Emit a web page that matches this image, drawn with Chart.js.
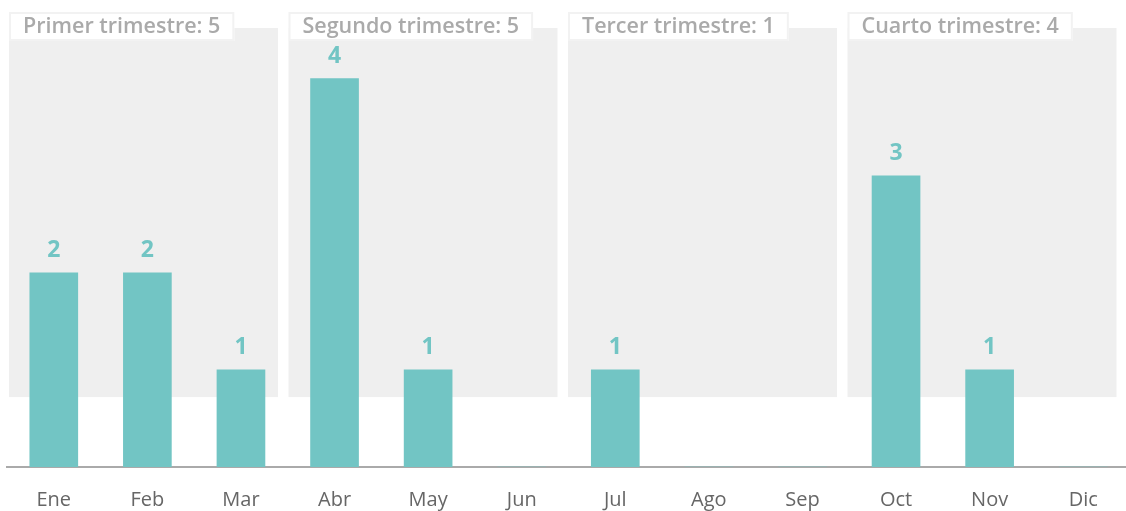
<!DOCTYPE html>
<html>
<head>
<meta charset="utf-8">
<script src="https://cdn.jsdelivr.net/npm/chart.js@4/dist/chart.umd.min.js"></script>
<style>
  html, body { margin: 0; padding: 0; background: #fff; overflow: hidden; }
  #wrap { width: 1130px; height: 511px; position: relative; }
</style>
</head>
<body>
<div id="wrap"><canvas id="c"></canvas></div>
<script>
const months = ["Ene","Feb","Mar","Abr","May","Jun","Jul","Ago","Sep","Oct","Nov","Dic"];
const values = [2, 2, 1, 4, 1, 0, 1, 0, 0, 3, 1, 0];
const quarterNames = ["Primer trimestre", "Segundo trimestre", "Tercer trimestre", "Cuarto trimestre"];

const quarterTotals = quarterNames.map((_, q) => values.slice(q * 3, q * 3 + 3).reduce((a, b) => a + b, 0));

const FONT = "'Open Sans', 'DejaVu Sans', sans-serif";
const TEAL = "#72c5c4";

const bandsPlugin = {
  id: 'bands',
  beforeDatasetsDraw(chart) {
    const ctx = chart.ctx;
    const y = chart.scales.y;
    const left = chart.chartArea.left + 2;
    const step = 279.5;
    const w = 269;
    const top = 28;
    const bottom = y.getPixelForValue(0.72);
    ctx.save();
    for (let q = 0; q < 4; q++) {
      const x0 = left + q * step;
      ctx.fillStyle = '#efefef';
      ctx.fillRect(x0, top, w, bottom - top);
    }
    ctx.restore();
  },
  afterDatasetsDraw(chart) {
    const ctx = chart.ctx;
    const left = chart.chartArea.left + 2;
    const step = 279.5;
    ctx.save();
    ctx.font = "600 21.5px " + FONT;
    ctx.textBaseline = 'middle';
    for (let q = 0; q < 4; q++) {
      const x0 = left + q * step;
      const txt = quarterNames[q] + ": " + quarterTotals[q];
      const tw = ctx.measureText(txt).width;
      ctx.fillStyle = '#ffffff';
      ctx.fillRect(x0, 12, tw + 28, 29);
      ctx.strokeStyle = '#f2f2f2';
      ctx.lineWidth = 2;
      ctx.strokeRect(x0 + 1, 13, tw + 26, 27);
      ctx.fillStyle = '#aaaaaa';
      ctx.fillText(txt, x0 + 14, 27);
    }
    // value labels
    const meta = chart.getDatasetMeta(0);
    ctx.font = "700 23px " + FONT;
    ctx.textAlign = 'center';
    ctx.textBaseline = 'alphabetic';
    ctx.fillStyle = TEAL;
    meta.data.forEach((bar, i) => {
      const v = chart.data.datasets[0].data[i];
      if (v > 0) ctx.fillText(String(v), bar.x, bar.y - 16);
    });
    ctx.restore();
  }
};

new Chart(document.getElementById('c'), {
  type: 'bar',
  data: {
    labels: months,
    datasets: [{
      data: values,
      backgroundColor: TEAL,
      borderWidth: 0,
      barThickness: 48
    }]
  },
  options: {
    responsive: true,
    maintainAspectRatio: false,
    animation: false,
    layout: { padding: { left: 7, right: 0, top: 0, bottom: 0 } },
    plugins: { legend: { display: false }, tooltip: { enabled: false } },
    scales: {
      x: {
        grid: { display: false, drawTicks: false },
        border: { display: true, color: '#aaaaaa', width: 2 },
        ticks: { color: '#666666', font: { family: FONT, size: 20, lineHeight: 1 }, padding: 23.5, maxRotation: 0 },
        afterFit(scale) { scale.height = 44; }
      },
      y: {
        display: false,
        min: 0,
        max: 4.81
      }
    }
  },
  plugins: [bandsPlugin]
});
</script>
</body>
</html>
